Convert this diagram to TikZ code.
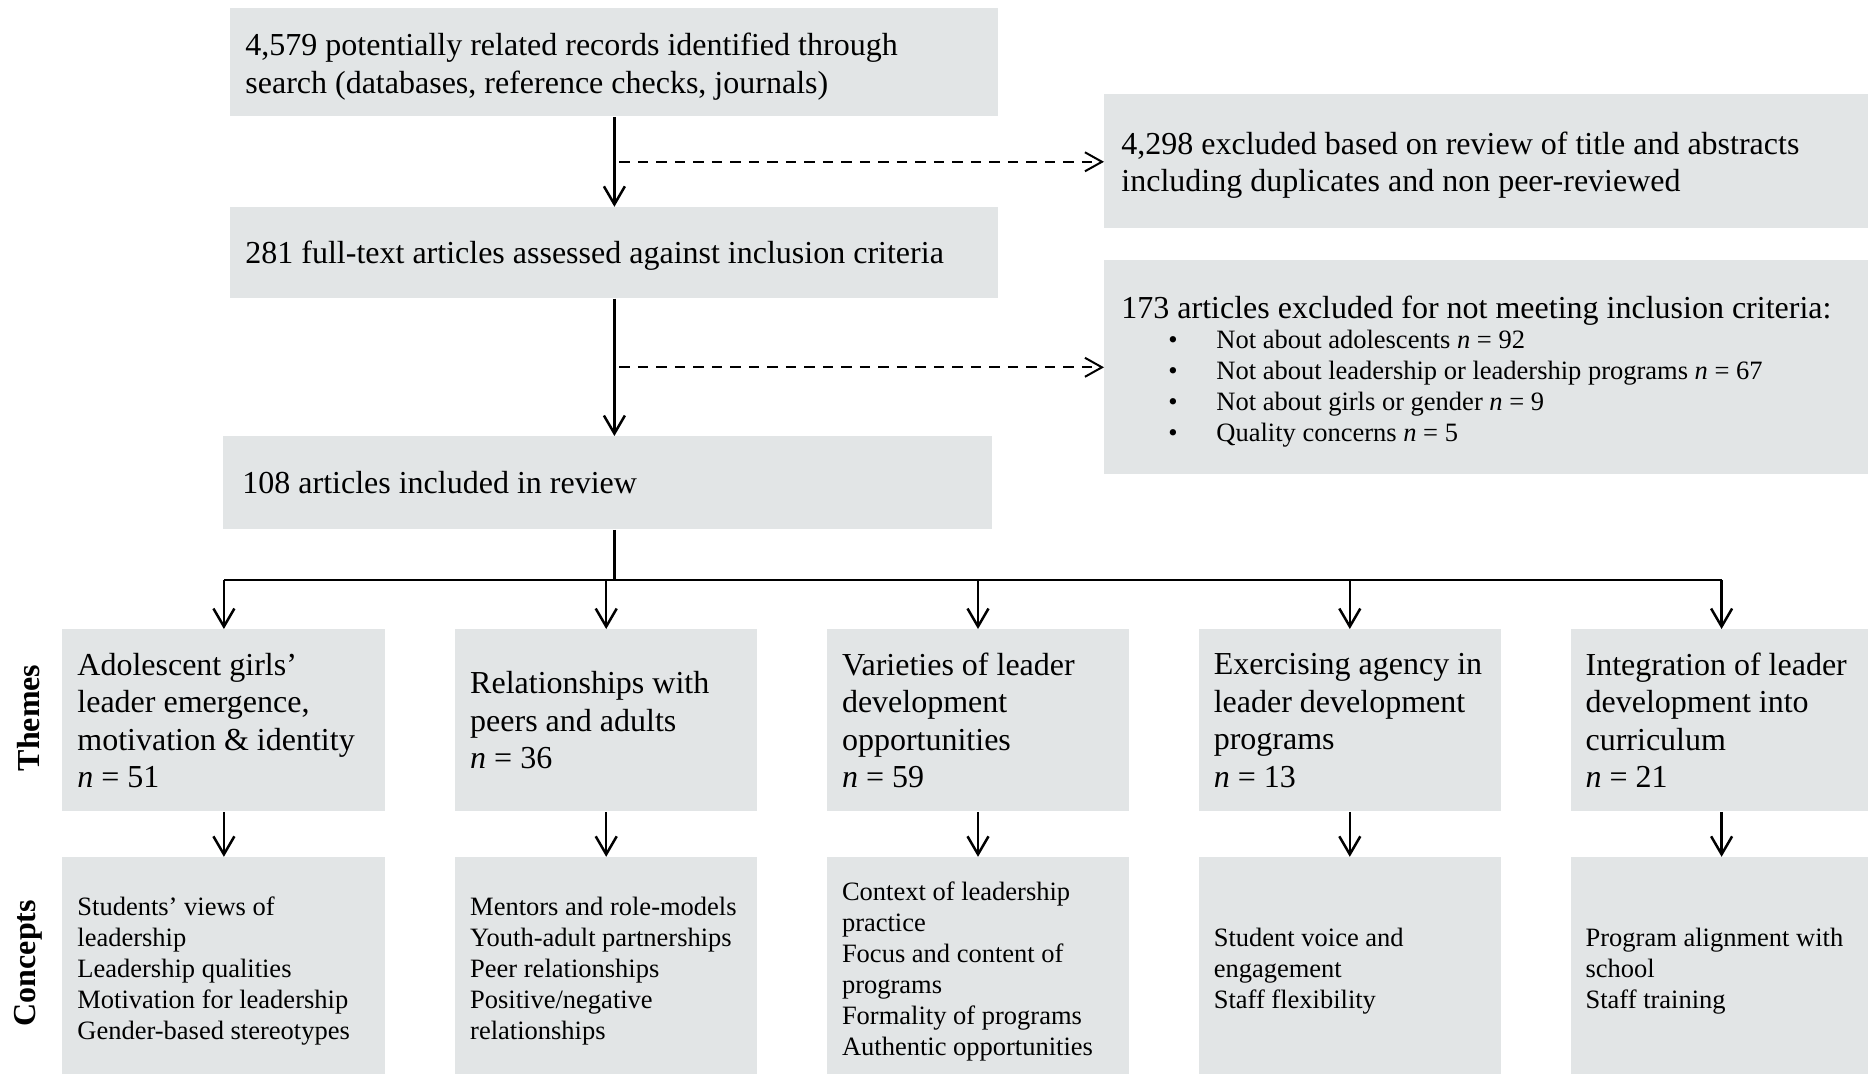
\documentclass[tikz,border=0pt]{standalone}
\usepackage{fontspec}
\setmainfont{Liberation Serif}
\usetikzlibrary{arrows.meta,positioning,calc}
\definecolor{PanelGray}{HTML}{E2E5E6}
\newcommand{\bigtxt}{\fontsize{16pt}{18.75pt}\selectfont}
\newcommand{\themetxt}{\fontsize{16pt}{18.75pt}\selectfont}
\newcommand{\smalltxt}{\fontsize{13.25pt}{15.5pt}\selectfont\spaceskip=\fontdimen2\font\relax}
\newcommand{\exclitem}{\hspace*{23.5pt}\makebox[24pt][l]{\textbullet}}

\begin{document}
\begin{tikzpicture}[
    x=0.5pt,y=-0.5pt,
    box/.style={fill=PanelGray,draw=none,align=left,inner ysep=0pt,anchor=north west,
      execute at begin node={\spaceskip=\fontdimen2\font\relax}},
    lowered/.style={execute at end node={\endgraf\vspace*{-#1}}},
    flow/.style={box,lowered=4pt,minimum width=384pt,inner xsep=7.5pt,text width=369pt,font=\bigtxt},
    side/.style={box,lowered=4pt,minimum width=382pt,inner xsep=8.5pt,text width=365pt,font=\bigtxt},
    theme/.style={box,minimum width=151pt,minimum height=91pt,inner xsep=7.5pt,text width=136pt,font=\themetxt},
    concept/.style={box,lowered=5pt,minimum width=151pt,minimum height=109pt,inner xsep=7.5pt,text width=136pt,font=\smalltxt},
    tag/.style={rotate=90,font=\themetxt\bfseries},
    arr/.style={-{Straight Barb[length=9pt,width=10.5pt]},line width=1.25pt},
    dasharr/.style={-{Straight Barb[length=8.5pt,width=9.5pt]},line width=1pt,dash pattern=on 5.25pt off 4pt}
  ]
  \useasboundingbox (0,0) rectangle (1868,1074);

  % screening steps
  \node[flow,minimum height=54pt] (srch) at (230,8) {4,579 potentially related records identified through\\search (databases, reference checks, journals)};
  \node[flow,minimum height=45.5pt,below=45pt of srch] (full) {281 full-text articles assessed against inclusion criteria};
  \node[flow,minimum height=46.5pt,minimum width=384.5pt,inner xsep=9.5pt,text width=365.5pt] (incl) at (223,436) {108 articles included in review};

  % exclusions
  \node[side,minimum height=67pt] (excA) at (1104,94) {4,298 excluded based on review of title and abstracts\\including duplicates and non peer-reviewed};
  \node[side,minimum height=107pt] (excB) at (1104,260) {173 articles excluded for not meeting inclusion criteria:\\[-0.5pt]
    \smalltxt\exclitem Not about adolescents \textit{n} = 92\\
    \exclitem Not about leadership or leadership programs \textit{n} = 67\\
    \exclitem Not about girls or gender \textit{n} = 9\\
    \exclitem Quality concerns \textit{n} = 5\par};

  % themes
  \node[theme,minimum width=161.5pt,text width=146.5pt] (th1) at (62,629) {Adolescent girls’\\leader emergence,\\motivation \& identity\\\textit{n} = 51};
  \node[theme,right=34.5pt of th1] (th2) {Relationships with\\peers and adults\\\textit{n} = 36};
  \node[theme,right=34.5pt of th2] (th3) {Varieties of leader\\development\\opportunities\\\textit{n} = 59};
  \node[theme,right=34.5pt of th3] (th4) {Exercising agency in\\leader development\\programs\\\textit{n} = 13};
  \node[theme,right=34.5pt of th4] (th5) {Integration of leader\\development into\\curriculum\\\textit{n} = 21};

  % concepts
  \node[concept,minimum width=161.5pt,text width=146.5pt,below=22.5pt of th1] (cp1) {Students’ views of\\leadership\\Leadership qualities\\Motivation for leadership\\Gender-based stereotypes};
  \node[concept,below=22.5pt of th2] (cp2) {Mentors and role-models\\Youth-adult partnerships\\Peer relationships\\Positive/negative\\relationships};
  \node[concept,below=22.5pt of th3] (cp3) {Context of leadership\\practice\\Focus and content of\\programs\\Formality of programs\\Authentic opportunities};
  \node[concept,below=22.5pt of th4] (cp4) {Student voice and\\engagement\\Staff flexibility};
  \node[concept,below=22.5pt of th5] (cp5) {Program alignment with\\school\\Staff training};

  \node[tag] (lblT) at (28.5,718) {Themes};
  \node[tag] (lblC) at (28.5,963) {Concepts};

  % connectors
  \draw[arr] (srch) -- (full);
  \coordinate (dA) at ($(srch.south)!0.5!(full.north)$);
  \draw[dasharr] ([xshift=2.5pt]dA) -- (dA -| excA.west);
  \draw[arr] (full.south) -- (full.south |- incl.north);
  \coordinate (dB) at ($(full.south)!0.5!(full.south |- incl.north)$);
  \draw[dasharr] ([xshift=2.5pt]dB) -- (dB -| excB.west);
  \coordinate (hub) at ($(full.south |- incl.south)+(0,50)$);
  \draw[line width=1.5pt] (full.south |- incl.south) -- (hub);
  \draw[line width=1.15pt] (hub -| th1.north) -- (hub -| th5.north);
  \foreach \t in {1,...,5} {
    \draw[arr] (hub -| th\t.north) -- (th\t);
    \draw[arr] (th\t) -- (cp\t);
  }
\end{tikzpicture}
\end{document}
